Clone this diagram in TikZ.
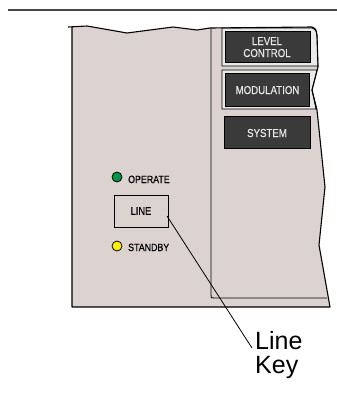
\documentclass[tikz,border=0pt]{standalone}
\usepackage{fontspec}
\setmainfont{Liberation Sans}
\newfontfamily\condfont[FakeStretch=0.84,FakeBold=0.6]{Liberation Sans}
\definecolor{panelfill}{RGB}{220,211,209}
\definecolor{btndark}{RGB}{58,58,58}
\definecolor{btnlight}{RGB}{234,234,234}
\definecolor{btntext}{RGB}{232,232,232}
\definecolor{ledgreen}{RGB}{0,150,70}
\definecolor{ledyellow}{RGB}{255,240,0}
\definecolor{rulegray}{RGB}{70,70,70}
\tikzset{
  panelline/.style={draw=black, line width=1.1pt},
  btnlabel/.style={text=btntext, font=\condfont\fontsize{11.5}{12}\selectfont, align=center, inner sep=0pt},
  smalllabel/.style={font=\condfont\fontsize{10.5}{11}\selectfont, inner sep=0pt, anchor=base west},
  led/.style={circle, draw=black, line width=0.8pt, minimum size=10pt, inner sep=0pt},
  leader/.style={draw=black, line width=0.8pt},
}
\begin{document}
\begin{tikzpicture}[x=1pt,y=-1pt]
\useasboundingbox (0,0) rectangle (337,416);
% top rule
\draw[rulegray, line width=1.5pt] (8,10) -- (337,10);
% panel body
\path[fill=panelfill] (72,27) -- (87,26) -- (127,33) -- (173,27) -- (197,30) -- (210,28) -- (312,27)
  .. controls (316,29) .. (317,35) -- (318,67) -- (312,90) -- (317,110) -- (325,187) -- (319,245) -- (330,307)
  -- (72,307) -- cycle;
% button bevels (light)
\path[fill=btnlight, draw=black, line width=0.7pt] (222,28) -- (312,28) .. controls (316,30) .. (317,36) -- (318,66) -- (222,66) -- cycle;
\path[fill=btnlight, draw=black, line width=0.7pt] (222,70) -- (317,70) -- (312,90) -- (316,109) -- (222,109) -- cycle;
% dark buttons
\node[draw=black, fill=btndark, line width=0.7pt, minimum width=85pt, minimum height=31pt, inner sep=0pt] (lvl) at (267.5,47) {};
\node[draw=black, fill=btndark, line width=0.7pt, minimum width=84pt, minimum height=33pt, inner sep=0pt] (mod) at (267,89.5) {};
\node[draw=black, fill=btndark, line width=1pt, minimum width=86pt, minimum height=32pt, inner sep=0pt] (sys) at (267,132) {};
\node[btnlabel, anchor=base] (lvltxt) at (267,45) {LEVEL};
\node[btnlabel, anchor=base] (ctltxt) at (267,57) {CONTROL};
\node[btnlabel, anchor=base] (modtxt) at (267.5,94) {MODULATION};
\node[btnlabel, anchor=base] (systxt) at (267,137) {SYSTEM};
% panel outline
\draw[panelline, line join=round] (68,27) -- (87,26) -- (127,33) -- (173,27) -- (197,30) -- (210,28) -- (312,27)
  .. controls (316,29) .. (317,35) -- (318,67) -- (312,90) -- (317,110) -- (325,187) -- (319,245) -- (330,307)
  -- (72,307) -- (72,27);
% inner section line
\draw[panelline, line width=0.9pt] (211,28) -- (211,295) .. controls (211,298) .. (214,298) -- (327,298);
% LEDs and labels
\node[led, fill=ledgreen] (opled) at (117,177) {};
\node[smalllabel] (optxt) at (128,183) {OPERATE};
\node[draw=black, line width=0.9pt, minimum width=54pt, minimum height=32pt, inner sep=0pt,
      font=\condfont\fontsize{11}{12}\selectfont] (linebox) at (141,211) {LINE};
\node[led, fill=ledyellow] (sbled) at (117,246) {};
\node[smalllabel] (sbtxt) at (128,251) {STANDBY};
% callout
\node[anchor=base west, align=left, inner sep=0pt, font=\fontsize{25}{24}\selectfont] (linekey) at (255,373) {Line\\Key};
\coordinate (leadstart) at (167,216);
\coordinate (leadend) at (252,348);
\draw[leader] (leadstart) -- (leadend);
\end{tikzpicture}
\end{document}
